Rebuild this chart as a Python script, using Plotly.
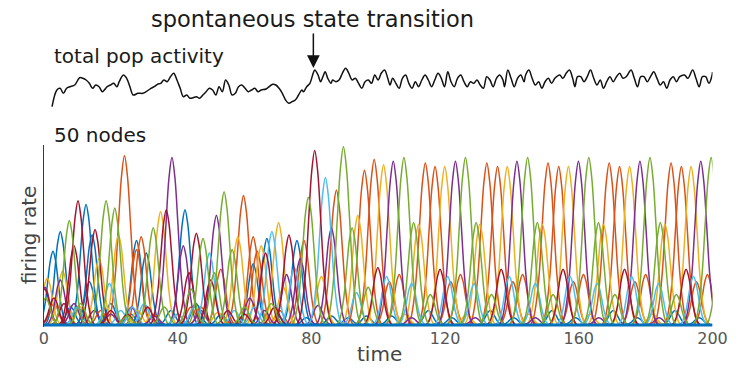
import plotly.graph_objects as go

# ---------------------------------------------------------------
# Node firing-rate peaks: (time, peak height) for each colour group
# ---------------------------------------------------------------
blue_t = [2.7, 4.9, 8.0, 12.6, 13.6, 14.4, 20.0, 26.0, 27.7, 30.6, 38.0, 42.2, 45.5, 53.0,
          62.6, 66.7, 70.0, 75.7, 78.5, 86.0, 91.0, 96.5, 104.0, 115.0, 122.0, 133.5, 140.5,
          152.0, 159.0, 170.3, 177.5, 188.8, 196.0]
blue_h = [0.41, 0.52, 0.10, 0.67, 0.24, 0.50, 0.12, 0.06, 0.47, 0.40, 0.08, 0.64, 0.12, 0.06,
          0.34, 0.48, 0.05, 0.47, 0.04, 0.05, 0.04, 0.05, 0.05, 0.08, 0.04, 0.08, 0.04,
          0.08, 0.04, 0.08, 0.04, 0.08, 0.04]

orange_t = [3.0, 10.0, 17.0, 24.1, 27.7, 29.1, 33.0, 44.0, 47.0, 52.9, 59.7, 62.6, 63.8, 70.5,
            77.8, 87.5, 95.9, 98.8, 103.3, 106.3, 114.1, 117.0, 121.7, 124.6, 132.5, 135.7,
            140.3, 143.2, 150.8, 154.0, 158.4, 161.4, 169.1, 172.2, 176.8, 180.0, 187.6,
            190.7, 195.2, 198.5]
orange_h = [0.12, 0.10, 0.08, 0.94, 0.42, 0.49, 0.06, 0.10, 0.10, 0.31, 0.72, 0.49, 0.41, 0.08,
            0.47, 0.75, 0.86, 0.92, 0.24, 0.28, 0.90, 0.88, 0.24, 0.28, 0.90, 0.88,
            0.24, 0.28, 0.90, 0.88, 0.24, 0.28, 0.90, 0.88, 0.24, 0.28, 0.90,
            0.88, 0.24, 0.28]

yellow_t = [1.0, 5.6, 11.0, 16.5, 22.3, 28.0, 34.9, 40.0, 45.0, 52.0, 58.0, 65.0, 70.2, 71.6,
            83.0, 93.9, 101.6, 108.0, 112.1, 119.9, 126.5, 130.4, 138.6, 145.0, 149.1, 156.9,
            163.5, 167.4, 175.2, 182.0, 185.8, 193.6]
yellow_h = [0.26, 0.30, 0.10, 0.37, 0.50, 0.08, 0.63, 0.06, 0.10, 0.07, 0.49, 0.44, 0.57, 0.21,
            0.27, 0.61, 0.89, 0.06, 0.56, 0.88, 0.06, 0.56, 0.88, 0.06, 0.56, 0.88,
            0.06, 0.56, 0.88, 0.06, 0.56, 0.88]

purple_t = [0.3, 4.9, 9.0, 15.0, 20.0, 26.2, 33.0, 38.3, 41.7, 47.0, 51.6, 61.6, 66.0, 72.6,
            76.7, 82.0, 86.0, 104.5, 110.0, 123.1, 129.0, 141.5, 147.0, 159.9, 166.0, 178.3,
            184.0, 196.5]
purple_h = [0.21, 0.25, 0.12, 0.08, 0.06, 0.10, 0.05, 0.93, 0.44, 0.08, 0.61, 0.15, 0.08, 0.28,
            0.37, 0.11, 0.54, 0.91, 0.04, 0.91, 0.04, 0.91, 0.04, 0.91, 0.04, 0.91,
            0.04, 0.91]

green_t = [0.5, 7.6, 11.0, 18.6, 21.2, 25.0, 32.7, 36.0, 44.0, 47.6, 51.0, 53.9, 56.3, 60.0,
           68.0, 79.1, 89.6, 92.2, 97.0, 107.7, 110.6, 115.6, 126.1, 129.3, 133.9, 144.7,
           147.6, 152.3, 163.0, 165.9, 170.8, 181.3, 184.4, 189.2, 199.6, 202.8]
green_h = [0.15, 0.58, 0.12, 0.69, 0.65, 0.05, 0.54, 0.10, 0.20, 0.48, 0.29, 0.74, 0.42, 0.10,
           0.12, 0.71, 0.99, 0.54, 0.21, 0.93, 0.57, 0.17, 0.93, 0.57, 0.17, 0.93,
           0.57, 0.17, 0.93, 0.57, 0.17, 0.93, 0.57, 0.17, 0.93, 0.57]

lightblue_t = [10.0, 19.6, 23.0, 26.5, 30.0, 40.0, 45.0, 49.5, 57.0, 63.0, 68.2, 74.9, 84.2,
               93.5, 102.5, 110.0, 120.8, 128.7, 139.2, 147.0, 157.4, 165.5, 175.8, 183.9,
               194.3]
lightblue_h = [0.10, 0.23, 0.08, 0.10, 0.12, 0.06, 0.10, 0.40, 0.08, 0.10, 0.52, 0.32, 0.82,
               0.18, 0.27, 0.23, 0.27, 0.23, 0.27, 0.23, 0.27, 0.23, 0.27, 0.23,
               0.27]

darkred_t = [0.2, 3.0, 6.0, 9.0, 10.2, 15.3, 20.0, 25.0, 31.0, 36.6, 43.4, 45.6, 49.9, 55.0,
             60.0, 66.3, 69.0, 73.3, 81.0, 99.9, 118.5, 136.8, 155.3, 173.7, 192.1]
darkred_h = [0.20, 0.15, 0.12, 0.44, 0.69, 0.53, 0.08, 0.06, 0.10, 0.64, 0.29, 0.51, 0.25, 0.08,
             0.06, 0.40, 0.10, 0.50, 0.97, 0.32, 0.31, 0.31, 0.31, 0.31, 0.31]

# ---------------------------------------------------------------
# Total population activity (arbitrary units)
# ---------------------------------------------------------------
pop_t = [2.43, 3.88, 4.85, 5.82, 6.79, 7.76, 9.22, 10.67, 11.64, 12.62, 13.59, 14.56, 15.53,
         16.50, 17.47, 18.92, 19.89, 20.86, 21.83, 22.51, 23.77, 24.75, 25.72, 26.69, 28.14,
         29.60, 30.57, 32.02, 32.99, 33.96, 34.93, 35.90, 36.88, 37.85, 38.82, 39.79, 40.76,
         41.73, 42.70, 43.67, 44.64, 45.61, 46.58, 47.55, 48.52, 49.49, 50.46, 51.43, 52.40,
         53.37, 54.34, 55.31, 56.28, 57.25, 58.22, 59.19, 60.17, 61.14, 62.11, 63.08, 64.05,
         65.02, 66.47, 68.41, 69.38, 70.35, 71.32, 72.29, 73.26, 74.23, 75.20, 76.17, 77.14,
         77.63, 78.60, 79.57, 80.54, 81.03, 82.00, 82.77, 83.45, 84.13, 84.91, 85.88, 86.36,
         87.33, 88.30, 89.27, 90.25, 91.22, 92.19, 93.16, 94.13, 95.10, 96.07, 97.04, 98.01,
         98.98, 99.95, 100.92, 101.89, 102.86, 103.54, 104.32, 105.29, 106.26, 107.23, 108.20,
         109.17, 110.14, 111.11, 112.08, 113.05, 114.02, 114.99, 115.96, 116.93, 117.90,
         118.87, 119.84, 120.81, 121.78, 122.75, 123.72, 124.69, 125.66, 126.63, 127.60,
         128.57, 129.54, 130.51, 131.48, 132.46, 133.43, 134.40, 135.37, 136.34, 137.31,
         137.80, 138.77, 139.74, 140.71, 141.68, 142.65, 143.62, 144.10, 145.08, 146.05,
         147.02, 147.99, 148.96, 149.93, 150.90, 151.87, 152.84, 154.29, 155.26, 156.23,
         157.20, 158.17, 158.86, 159.63, 160.60, 161.57, 162.54, 163.51, 164.48, 165.45,
         166.42, 167.39, 168.36, 169.33, 170.31, 171.28, 172.25, 173.22, 174.19, 175.64,
         176.61, 177.58, 178.55, 179.52, 180.49, 181.46, 182.43, 183.40, 184.37, 185.34,
         186.32, 187.29, 188.26, 189.23, 190.20, 191.65, 192.62, 194.08, 195.05, 196.02,
         196.99, 197.96, 198.93, 199.90, 200.0]
pop_a = [5.3, 22.0, 23.7, 18.7, 23.7, 25.3, 27.0, 34.3, 33.7, 32.0, 28.7, 23.7, 27.0,
         25.3, 20.3, 25.3, 27.0, 28.7, 25.3, 30.3, 37.0, 33.7, 25.3, 17.0, 18.7,
         18.7, 20.3, 23.7, 25.3, 27.7, 28.7, 32.0, 30.3, 35.3, 38.7, 32.0, 23.7,
         15.3, 17.0, 13.7, 14.3, 15.3, 13.7, 17.0, 20.3, 23.7, 22.0, 17.0, 25.3,
         20.3, 32.0, 27.0, 17.0, 18.7, 25.3, 27.0, 23.7, 20.3, 22.0, 23.7, 20.3,
         22.0, 23.0, 27.7, 27.0, 23.7, 18.7, 12.0, 8.7, 10.3, 12.0, 17.0, 22.0,
         20.3, 25.3, 28.7, 38.7, 42.0, 37.0, 30.3, 35.3, 40.3, 33.7, 28.7, 32.0,
         30.3, 32.0, 38.7, 43.7, 38.7, 32.0, 33.7, 28.7, 23.7, 30.3, 32.0, 28.7,
         37.0, 32.0, 38.7, 42.0, 33.7, 27.0, 33.7, 28.7, 23.7, 33.7, 37.0,
         28.7, 23.7, 30.3, 25.3, 32.0, 37.0, 32.0, 25.3, 32.0, 38.7,
         33.7, 25.3, 40.3, 30.3, 25.3, 33.7, 37.0, 30.3, 25.3, 30.3,
         28.7, 32.0, 27.0, 23.7, 35.3, 32.0, 25.3, 33.7, 37.0, 32.0,
         25.3, 42.0, 33.7, 25.3, 33.7, 37.0, 30.3, 37.0, 42.0, 33.7,
         27.0, 30.3, 23.7, 30.3, 33.7, 28.7, 33.7, 37.0, 33.7, 38.7,
         42.0, 33.7, 25.3, 35.3, 35.3, 30.3, 35.3, 42.0, 33.7, 27.0,
         32.0, 23.7, 30.3, 35.3, 30.3, 35.3, 38.7, 33.7, 35.3, 42.0,
         33.7, 25.3, 35.3, 35.3, 30.3, 35.3, 40.3, 33.7, 27.0, 30.3,
         23.7, 32.0, 35.3, 30.3, 35.3, 37.0, 33.7, 42.0, 33.7, 25.3,
         35.3, 35.3, 28.7, 37.0, 40.0]

tick_vals = [0, 40, 80, 120, 160, 200]
transition_time = 80.6

COLORS = {
    "blue": "#0072BD", "orange": "#D95319", "yellow": "#EDB120", "purple": "#7E2F8E",
    "green": "#77AC30", "lightblue": "#4DBEEE", "darkred": "#A2142F",
}
groups = [
    ("blue", blue_t, blue_h), ("orange", orange_t, orange_h), ("yellow", yellow_t, yellow_h),
    ("purple", purple_t, purple_h), ("lightblue", lightblue_t, lightblue_h),
    ("darkred", darkred_t, darkred_h), ("green", green_t, green_h),
]

# bell-shaped glyph used for every burst: (offset in widths, fraction of peak)
BUMP_OFFS = [-3.0, -2.5, -2.0, -1.5, -1.0, -0.5, 0.0, 0.5, 1.0, 1.5, 2.0, 2.5, 3.0]
BUMP_FRAC = [0.0, 0.04, 0.14, 0.32, 0.61, 0.88, 1.0, 0.88, 0.61, 0.32, 0.14, 0.04, 0.0]


def bumps(times, heights):
    """Draw each burst as a bell glyph centred on its time, scaled to its peak."""
    xs, ys = [], []
    for t, h in zip(times, heights):
        w = 1.3 + 0.5 * h
        xs += [t + o * w for o in BUMP_OFFS] + [None]
        ys += [f * h for f in BUMP_FRAC] + [None]
    return xs, ys


fig = go.Figure()
for name, ts, hs in groups:
    x, y = bumps(ts, hs)
    fig.add_trace(go.Scatter(
        x=x, y=y, mode="lines", xaxis="x", yaxis="y", hoverinfo="skip",
        line=dict(color=COLORS[name], width=1.5, shape="spline", smoothing=1.0),
    ))

# quiet nodes sitting on zero
fig.add_trace(go.Scatter(x=[0, 200], y=[0, 0], mode="lines", xaxis="x", yaxis="y",
                         line=dict(color=COLORS["blue"], width=3), hoverinfo="skip"))

# total population activity
fig.add_trace(go.Scatter(x=pop_t, y=pop_a, mode="lines", xaxis="x2", yaxis="y2",
                         line=dict(color="#111111", width=1.5, shape="spline", smoothing=1.0),
                         hoverinfo="skip"))

W, H = 745, 368
xdom = [40 / W, 727 / W]
FONT = "DejaVu Sans"

fig.update_layout(
    width=W, height=H, margin=dict(l=0, r=0, t=0, b=0),
    paper_bgcolor="white", plot_bgcolor="white", showlegend=False,
    xaxis=dict(domain=xdom, range=[0, 200], tickvals=tick_vals, ticks="", showline=False,
               showgrid=False, zeroline=False, anchor="y",
               tickfont=dict(family=FONT, size=16, color="#555555")),
    yaxis=dict(domain=[41 / H, 223 / H], range=[-0.011, 1.0], showline=True,
               linecolor="#3a3a3a", linewidth=1, showticklabels=False, ticks="",
               showgrid=False, zeroline=False, anchor="x"),
    xaxis2=dict(domain=xdom, range=[0, 200], visible=False, anchor="y2"),
    yaxis2=dict(domain=[256 / H, 313 / H], range=[0, 57], visible=False, anchor="x2"),
)


def label(text, px, py, size, color="#1a1a1a", xanchor="left", angle=0):
    fig.add_annotation(text=text, x=px / W, y=1 - py / H, xref="paper", yref="paper",
                       xanchor=xanchor, yanchor="middle", showarrow=False, textangle=angle,
                       font=dict(family=FONT, size=size, color=color))


label("spontaneous state transition", 148, 19, 22.5)
label("total pop activity", 48, 56, 20)
label("50 nodes", 48, 135, 20)
label("firing rate", 25, 235, 20, color="#444444", xanchor="center", angle=-90)
label("time", 385, 354, 20, color="#444444", xanchor="center")

fig.add_annotation(x=transition_time, y=44, xref="x2", yref="y2", text="", showarrow=True,
                   ax=0, ay=-36, arrowhead=2, arrowsize=1.7, arrowwidth=1.5,
                   arrowcolor="#111111")

fig.write_html("out.html")
